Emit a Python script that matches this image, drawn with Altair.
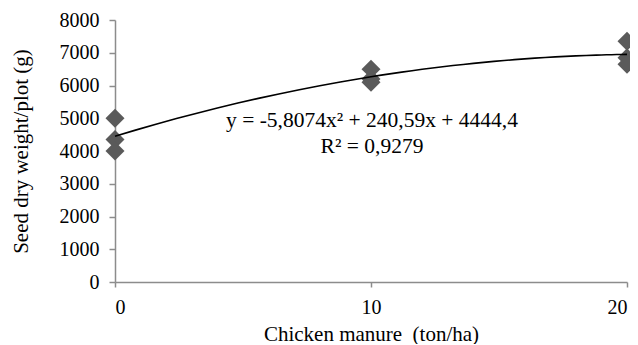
import altair as alt
import pandas as pd

# Data
manure = [0, 0, 0, 10, 10, 10, 20, 20, 20]
seed_weight = [5000, 4350, 4000, 6500, 6200, 6100, 7350, 6850, 6650]
x_ticks = [0, 10, 20]
y_ticks = [0, 1000, 2000, 3000, 4000, 5000, 6000, 7000, 8000]

equation_text = "y = -5,8074x² + 240,59x + 4444,4"
r2_text = "R² = 0,9279"

df = pd.DataFrame({"x": manure, "y": seed_weight})

FONT = "Liberation Serif"
AXIS_GRAY = "#8c8c8c"
FS = 21
LFS = 20

x_axis = alt.Axis(
    values=x_ticks,
    format="d",
    labelOverlap=False,
    title="Chicken manure\u00a0 (ton/ha)",
    grid=False,
    tickSize=5,
    labelPadding=10,
    titlePadding=6,
)
y_axis = alt.Axis(
    values=y_ticks,
    format="d",
    labelOverlap=False,
    title="Seed dry weight/plot (g)",
    grid=False,
    tickSize=6,
    labelPadding=10,
    titlePadding=28,
)
x_scale = alt.Scale(domain=[0, 20], nice=False, zero=False)
y_scale = alt.Scale(domain=[0, 8000], nice=False)

points = alt.Chart(df).mark_point(
    shape="diamond", filled=True, color="#5a5a5a", size=360, opacity=1
).encode(
    x=alt.X("x:Q", scale=x_scale, axis=x_axis),
    y=alt.Y("y:Q", scale=y_scale, axis=y_axis),
)

trend = (
    alt.Chart(df)
    .transform_regression("x", "y", method="poly", order=2, extent=[0, 20])
    .mark_line(color="black", strokeWidth=1.6)
    .encode(
        x=alt.X("x:Q", scale=x_scale, axis=x_axis),
        y=alt.Y("y:Q", scale=y_scale, axis=y_axis),
    )
)

eq = alt.Chart(pd.DataFrame({"t": [equation_text]})).mark_text(
    font=FONT, fontSize=21.5, color="black", align="center", baseline="middle"
).encode(x=alt.value(257), y=alt.value(101), text="t:N")

r2 = alt.Chart(pd.DataFrame({"t": [r2_text]})).mark_text(
    font=FONT, fontSize=21.5, color="black", align="center", baseline="middle"
).encode(x=alt.value(257), y=alt.value(127), text="t:N")

chart = (
    alt.layer(points, trend, eq, r2)
    .properties(
        width=512,
        height=262,
        autosize=alt.AutoSizeParams(type="none"),
        padding={"left": 107, "top": 12, "right": 3, "bottom": 62},
    )
    .configure_view(stroke=None)
    .configure_axis(
        labelFont=FONT,
        titleFont=FONT,
        labelFontSize=LFS,
        titleFontSize=FS,
        titleFontWeight="normal",
        labelColor="black",
        titleColor="black",
        labelOverlap=False,
        domainColor=AXIS_GRAY,
        tickColor=AXIS_GRAY,
        domainWidth=1.5,
        tickWidth=1.5,
    )
)

chart.save("out.html", embed_options={"renderer": "svg", "actions": False})
